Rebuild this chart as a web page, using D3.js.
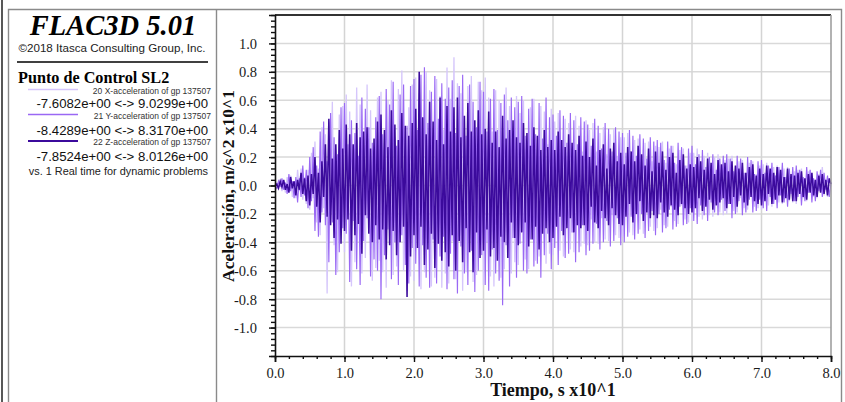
<!DOCTYPE html>
<html>
<head>
<meta charset="utf-8">
<script src="https://cdn.jsdelivr.net/npm/d3@7"></script>
<style>
  html, body { margin: 0; padding: 0; background: #fff; }
  svg { display: block; }
</style>
</head>
<body>
<svg id="chart" width="845" height="402"></svg>
<script>
// Sampling interval of the acceleration histories (s)
const dt = 0.25;

// 20 X-acceleration of gp 137507 (m/s^2)
const accX = [
  0, 0.2, -0.1, 0.3, -0.4, 0.2, -0.5, 0.6, -0.2, 0.7, -0.8, 0.3, -0.9, 1.1, -0.4, 1.2, -1.0, 0.6, -1.3, 1.1,
  -1.7, 2.3, -0.9, 3.1, -2.6, 1.2, -3.5, 4.1, -1.6, 3.6, -7.6082, 4.5, -2.1, 5.9, -4.2, 2.0, -6.1, 5.0, -2.4, 5.6,
  -4.7, 6.4, -2.2, 5.2, -7.1, 2.8, -5.4, 6.9, -2.5, 5.7, -6.2, 2.4, -5.1, 7.1, -3.0, 5.3, -6.7, 2.6, -5.8, 6.2,
  -5.3, 6.6, -6.1, 3.0, -7.2, 6.0, -3.1, 7.4, -6.3, 3.4, -5.7, 6.8, -3.3, 8.1, -6.0, 4.0, -7.4, 5.5, -6.4, 7.1,
  -6.7, 7.6, -3.6, 6.5, -7.3, 4.0, -6.1, 8.0, -3.8, 6.7, -7.1, 3.5, -6.5, 7.5, -4.1, 6.3, -7.2, 3.9, -6.2, 8.3,
  -6.9, 6.1, -3.9, 9.0299, -6.6, 7.2, -3.6, 6.5, -7.4, 4.0, -6.1, 7.0, -3.7, 7.7, -6.8, 3.9, -6.3, 7.3, -3.5, 6.7,
  -7.0, 7.6, -4.0, 6.2, -6.4, 3.8, -7.1, 6.7, -3.6, 6.0, -6.5, 3.5, -5.9, 6.9, -3.4, 5.6, -6.2, 3.3, -5.4, 6.3,
  -5.6, 5.1, -3.2, 6.0, -5.2, 3.1, -5.9, 5.5, -3.0, 6.1, -5.3, 3.2, -5.0, 5.6, -2.9, 5.2, -5.5, 2.9, -4.8, 5.4,
  -4.9, 4.5, -2.8, 5.1, -4.6, 2.7, -5.0, 4.7, -2.6, 4.4, -4.5, 2.6, -4.7, 4.9, -2.5, 4.2, -4.3, 2.4, -4.1, 4.6,
  -4.2, 3.9, -2.4, 4.4, -4.0, 2.4, -4.1, 3.7, -2.3, 4.1, -3.8, 2.2, -3.9, 3.6, -2.1, 4.0, -3.5, 2.1, -3.7, 3.4,
  -3.6, 3.4, -2.0, 3.7, -3.3, 1.9, -3.5, 3.2, -1.9, 3.3, -3.1, 1.8, -3.4, 3.0, -1.7, 3.1, -2.9, 1.7, -3.2, 2.8,
  -3.0, 2.7, -1.7, 3.1, -2.8, 1.6, -2.9, 2.6, -1.5, 2.8, -2.5, 1.5, -2.7, 2.5, -1.4, 2.6, -2.4, 1.4, -2.6, 2.3,
  -2.5, 2.3, -1.3, 2.6, -2.2, 1.3, -2.4, 2.1, -1.2, 2.3, -2.1, 1.1, -2.2, 2.0, -1.1, 2.2, -1.9, 1.0, -2.1, 1.8,
  -2.0, 1.9, -1.0, 2.1, -1.8, 1.0, -1.9, 1.7, -0.9, 1.8, -1.6, 0.9, -1.7, 1.6, -0.8, 1.7, -1.5, 0.8, -1.6, 1.4,
  -1.7, 1.5, -0.8, 1.6, -1.4, 0.8, -1.5, 1.3, -0.7, 1.4, -1.2, 0.6, -1.3, 1.2, -0.6, 1.3, -1.1, 0.6, -1.2, 1.0,
  -1.3, 1.1, -0.6, 1.2, -0.9, 0.5, -1.1, 1.0, -0.4, 0.9, -0.8, 0.4, -0.9, 0.8, -0.3, 1.3, -0.7, 0.4, -0.8, 0.5,
  0.1
];

// 21 Y-acceleration of gp 137507 (m/s^2)
const accY = [
  0, -0.2, 0.3, -0.1, 0.5, -0.3, 0.2, -0.6, 0.8, -0.4, 0.3, -0.9, 0.6, -1.2, 0.5, -0.8, 1.4, -0.7, 1.1, -1.6,
  2.0, -1.1, 2.7, -3.2, 1.4, -3.6, 3.8, -1.9, 4.5, -2.8, 1.7, -5.4, 5.1, -2.6, 3.4, -6.3, 2.2, -4.7, 5.5, -3.0,
  5.8, -3.4, 2.9, -6.8, 4.6, -2.5, 3.7, -5.9, 2.1, -7.0, 6.2, -3.9, 5.4, -2.3, 4.1, -6.4, 3.0, -5.2, 4.8, -6.0,
  6.3, -8.0, 3.6, -4.9, 6.8, -3.1, 5.7, -6.6, 7.3, -4.0, 2.8, -7.0, 6.4, -3.5, 7.1, -5.6, 4.2, -6.9, 7.0, -4.4,
  7.5, -5.5, 3.9, -7.1, 7.8, -4.2, 8.3170, -6.5, 4.4, -7.2, 6.6, -3.8, 7.7, -6.9, 4.7, -5.0, 7.2, -3.6, 6.1, -7.3,
  6.9, -4.8, 7.4, -6.6, 3.7, -7.6, 7.0, -4.3, 7.8, -6.2, 3.5, -7.0, 7.1, -4.6, 5.9, -7.5, 4.1, -6.0, 7.3, -4.9,
  6.6, -7.0, 3.8, -7.4, 6.1, -4.5, 6.8, -6.2, 3.9, -6.7, 5.8, -8.4289, 6.4, -4.2, 4.6, -7.1, 6.2, -3.7, 5.5, -6.5,
  5.9, -4.1, 6.3, -6.0, 3.5, -6.2, 5.4, -3.8, 6.1, -5.7, 3.6, -5.5, 5.8, -6.5, 3.3, -4.9, 6.2, -3.4, 4.8, -5.9,
  5.0, -4.4, 3.5, -5.6, 5.3, -3.2, 4.9, -5.1, 3.0, -4.8, 5.1, -3.3, 4.6, -5.4, 2.9, -4.7, 4.8, -2.8, 4.5, -4.9,
  4.3, -4.6, 2.8, -4.1, 4.7, -2.7, 4.2, -4.5, 2.6, -4.0, 4.4, -2.5, 4.0, -4.3, 2.4, -3.9, 4.1, -2.3, 3.8, -4.2,
  3.7, -4.0, 2.3, -3.6, 3.9, -2.2, 3.5, -3.8, 2.1, -3.4, 3.6, -2.0, 3.3, -3.7, 1.9, -3.2, 3.4, -1.8, 3.1, -3.5,
  3.2, -2.0, 3.0, -3.3, 1.8, -3.0, 3.1, -1.7, 2.8, -3.1, 1.6, -2.9, 3.0, -1.5, 2.7, -2.8, 1.4, -2.7, 2.6, -1.6,
  2.8, -2.5, 1.5, -2.7, 2.2, -1.4, 2.5, -2.1, 1.3, -2.5, 2.0, -1.2, 2.2, -1.9, 1.1, -2.1, 1.9, -1.0, 2.1, -1.8,
  2.2, -1.3, 1.9, -2.3, 1.0, -2.0, 2.1, -1.1, 1.9, -2.1, 0.9, -1.9, 2.0, -1.0, 1.8, -1.9, 0.8, -1.8, 1.7, -1.0,
  1.8, -1.6, 0.9, -1.8, 1.4, -0.8, 1.6, -1.3, 0.7, -1.6, 1.3, -0.7, 1.6, -1.2, 0.6, -1.5, 1.2, -0.6, 1.3, -1.1,
  1.4, -0.8, 1.1, -1.4, 0.6, -1.1, 1.3, -0.5, 1.1, -1.2, 0.5, -1.1, 1.0, -0.4, 1.1, -0.8, 0.9, -0.3, 0.7, -0.8,
  0.2
];

// 22 Z-acceleration of gp 137507 (m/s^2)
const accZ = [
  0, 0.1, -0.2, 0.3, -0.1, 0.4, -0.3, 0.1, -0.5, 0.6, -0.2, 0.3, -0.7, 0.4, -0.3, 0.9, -0.6, 0.5, -1.1, 0.7,
  -1.4, 0.8, -0.6, 2.0, -1.5, 0.9, -2.6, 1.7, -0.8, 2.9, -2.2, 4.7, -2.8, 1.9, -3.7, 2.9, -2.4, 3.9, -4.1, 2.6,
  -3.2, 4.3, -2.4, 3.6, -4.6, 2.9, -3.5, 4.4, -2.7, 3.4, -4.8, 3.8, -2.1, 4.1, -3.4, 2.6, -4.0, 3.3, -2.8, 4.5,
  -3.8, 5.0, -3.1, 3.9, -5.2, 2.7, -4.2, 5.3, -3.2, 4.3, -4.9, 3.2, -4.0, 5.1, -2.9, 4.2, -7.8524, 3.5, -5.0, 4.4,
  -3.5, 5.4, -4.4, 8.0126, -2.9, 4.8, -5.6, 3.6, -4.5, 5.9, -3.4, 4.5, -5.8, 3.2, -4.1, 6.2, -5.3, 2.9, -4.7, 5.6,
  -5.7, 3.8, -3.5, 5.5, -6.0, 6.2, -3.9, 3.4, -5.4, 4.9, -3.0, 5.8, -4.7, 3.8, -6.1, 4.6, -3.3, 5.3, -5.1, 3.6,
  -4.6, 4.0, -3.1, 5.2, -5.0, 3.0, -4.4, 3.8, -5.3, 2.7, -3.6, 4.9, -4.0, 3.3, -5.1, 3.9, -2.6, 4.6, -3.7, 3.4,
  -4.2, 3.0, -3.3, 4.4, -2.6, 3.7, -4.3, 2.8, -3.8, 4.1, -2.9, 3.5, -4.5, 2.5, -3.4, 3.9, -3.0, 2.7, -4.0, 3.2,
  -3.7, 2.5, -2.9, 3.8, -2.2, 3.2, -3.5, 2.7, -3.0, 3.6, -2.3, 3.0, -3.3, 2.5, -2.8, 3.5, -3.0, 2.1, -2.8, 3.1,
  -3.2, 2.0, -1.5, 3.3, -2.6, 1.4, -3.0, 2.5, -1.8, 2.9, -2.3, 1.2, -2.8, 2.6, -1.6, 3.0, -2.1, 1.7, -2.7, 2.3,
  -2.8, 1.5, -2.2, 2.7, -1.3, 2.4, -2.6, 1.7, -2.0, 2.8, -1.1, 2.2, -2.5, 1.4, -1.9, 2.6, -2.3, 1.0, -2.1, 2.4,
  -2.3, 1.6, -1.2, 2.4, -1.9, 1.1, -2.2, 2.0, -1.4, 2.3, -1.7, 0.9, -2.1, 1.8, -1.3, 2.2, -1.6, 1.2, -2.0, 1.5,
  -1.9, 1.3, -1.6, 2.0, -0.9, 1.7, -1.8, 1.1, -1.5, 1.9, -1.0, 1.6, -1.7, 0.8, -1.4, 1.8, -1.2, 1.5, -0.9, 1.6,
  -1.6, 1.0, -1.3, 1.7, -0.8, 1.4, -1.5, 1.2, -0.7, 1.6, -1.2, 0.9, -1.4, 1.3, -0.8, 1.5, -1.1, 0.7, -1.3, 1.2,
  -1.4, 0.8, -1.1, 1.4, -0.6, 1.2, -1.3, 0.9, -1.0, 1.3, -0.7, 1.1, -1.2, 0.6, -0.9, 1.2, -1.0, 0.8, -1.1, 0.7,
  -1.1, 0.9, -0.6, 1.0, -0.8, 0.5, -1.0, 0.8, -0.5, 0.9, -0.7, 0.4, -0.8, 0.7, -0.5, 0.8, -0.6, 0.4, -0.7, 0.5,
  0.1
];

const seriesNames = ["20 X-acceleration of gp 137507", "21 Y-acceleration of gp 137507", "22 Z-acceleration of gp 137507"];
const seriesColors = ["#d5c6fb", "#9a68f4", "#3b0a9c"];
const seriesWidths = [1.3, 1.15, 1.55];
const seriesData = [accX, accY, accZ];

// Axis extents (s and m/s^2) and the x10^1 tick labelling
const timeDomain = [0, 80];
const accDomain = [-12, 12];
const xMajorTicks = [0, 10, 20, 30, 40, 50, 60, 70, 80];
const yMajorTicks = [-10, -8, -6, -4, -2, 0, 2, 4, 6, 8, 10];

const titleText = "FLAC3D 5.01";
const copyrightText = "\u00A92018 Itasca Consulting Group, Inc.";
const plotTitle = "Punto de Control SL2";
const footText = "vs. 1 Real time for dynamic problems";
const xTitle = "Tiempo, s x10^1";
const yTitle = "Aceleraci\u00F3n, m/s^2 x10^1";

const serif = "'Liberation Serif', 'Times New Roman', serif";
const sans = "'Liberation Sans', Arial, sans-serif";

const svg = d3.select("#chart");

// ---- page frame ----
svg.append("line").attr("x1", 2).attr("x2", 2).attr("y1", 0).attr("y2", 402)
  .attr("stroke", "#111").attr("stroke-width", 1.4);
svg.append("path")
  .attr("d", "M8.5,402 V9.5 H841.5 V402")
  .attr("fill", "none").attr("stroke", "#8a8a8a").attr("stroke-width", 1.4);
svg.append("line").attr("x1", 216.5).attr("x2", 216.5).attr("y1", 9.5).attr("y2", 402)
  .attr("stroke", "#8a8a8a").attr("stroke-width", 1.4);

// ---- legend panel ----
const panel = svg.append("g");
panel.append("text").attr("x", 113).attr("y", 35).attr("text-anchor", "middle")
  .attr("font-family", serif).attr("font-weight", "bold").attr("font-style", "italic")
  .attr("font-size", 28.5).attr("fill", "#000").text(titleText);
panel.append("text").attr("x", 112).attr("y", 51.5).attr("text-anchor", "middle")
  .attr("font-family", sans).attr("font-size", 11.6).attr("fill", "#222").text(copyrightText);
panel.append("line").attr("x1", 17).attr("x2", 208).attr("y1", 62).attr("y2", 62)
  .attr("stroke", "#000").attr("stroke-width", 1.3);
panel.append("text").attr("x", 18).attr("y", 82.5)
  .attr("font-family", serif).attr("font-weight", "bold").attr("font-size", 16.2)
  .attr("fill", "#000").text(plotTitle);

const fmtE = v => v.toExponential(4).replace(/e([+-])(\d)$/, "e$10$2");
const legendLineY = [89.5, 114.5, 141];
const legendLabelY = [94, 119, 145];
const legendValueY = [108, 134.5, 160.5];
seriesData.forEach((data, i) => {
  const ext = d3.extent(data);
  panel.append("line").attr("x1", 28).attr("x2", 78)
    .attr("y1", legendLineY[i]).attr("y2", legendLineY[i])
    .attr("stroke", seriesColors[i]).attr("stroke-width", i === 2 ? 2 : 1.6);
  panel.append("text").attr("x", 211).attr("y", legendLabelY[i]).attr("text-anchor", "end")
    .attr("font-family", sans).attr("font-size", 8.5).attr("fill", "#333").text(seriesNames[i]);
  panel.append("text").attr("x", 208).attr("y", legendValueY[i]).attr("text-anchor", "end")
    .attr("font-family", sans).attr("font-size", 13.2).attr("fill", "#111")
    .text(fmtE(ext[0]) + " <-> " + fmtE(ext[1]));
});
panel.append("text").attr("x", 208).attr("y", 175).attr("text-anchor", "end")
  .attr("font-family", sans).attr("font-size", 10.9).attr("fill", "#222").text(footText);

// ---- plot ----
const plot = { left: 275, right: 831, top: 15, bottom: 356 };
const x = d3.scaleLinear().domain(timeDomain).range([plot.left, plot.right]);
const y = d3.scaleLinear().domain(accDomain).range([plot.bottom, plot.top]);

const grid = svg.append("g");
grid.selectAll("line.h").data(yMajorTicks).join("line").attr("class", "h")
  .attr("x1", plot.left).attr("x2", plot.right)
  .attr("y1", d => y(d)).attr("y2", d => y(d))
  .attr("stroke", "#d9d9d9").attr("stroke-width", 1.5);
grid.selectAll("line.v").data(xMajorTicks.slice(1, -1)).join("line").attr("class", "v")
  .attr("x1", d => x(d)).attr("x2", d => x(d))
  .attr("y1", plot.top).attr("y2", plot.bottom)
  .attr("stroke", "#d4d4d4").attr("stroke-width", 1.5);

const line = d3.line().x((d, i) => x(i * dt)).y(d => y(d));
svg.append("g").selectAll("path").data(seriesData).join("path")
  .attr("d", d => line(d))
  .attr("fill", "none")
  .attr("stroke", (d, i) => seriesColors[i])
  .attr("stroke-width", (d, i) => seriesWidths[i])
  .attr("stroke-linejoin", "miter");

// borders
svg.append("line").attr("x1", plot.left).attr("x2", plot.right).attr("y1", plot.top).attr("y2", plot.top)
  .attr("stroke", "#333").attr("stroke-width", 2);
svg.append("line").attr("x1", plot.right).attr("x2", plot.right).attr("y1", plot.top).attr("y2", plot.bottom)
  .attr("stroke", "#999").attr("stroke-width", 1.5);

// x axis: majors every 10 s, minors every 2 s
const xAxis = d3.axisBottom(x).tickValues(xMajorTicks).tickSize(6).tickPadding(6)
  .tickFormat(d => (d / 10).toFixed(1));
const gx = svg.append("g").attr("transform", `translate(0,${plot.bottom})`).call(xAxis);
const xMinor = d3.axisBottom(x).tickValues(d3.range(0, 81, 2)).tickSize(3).tickFormat("");
svg.append("g").attr("transform", `translate(0,${plot.bottom})`).call(xMinor)
  .select(".domain").remove();

// y axis: majors every 2 m/s^2, minors every 0.4 m/s^2
const yAxis = d3.axisLeft(y).tickValues(yMajorTicks).tickSize(6).tickPadding(12)
  .tickFormat(d => (d / 10).toFixed(1));
const gy = svg.append("g").attr("transform", `translate(${plot.left},0)`).call(yAxis);
const yMinor = d3.axisLeft(y).tickValues(d3.range(-60, 61, 2).map(v => v / 5)).tickSize(4).tickFormat("");
svg.append("g").attr("transform", `translate(${plot.left},0)`).call(yMinor)
  .select(".domain").remove();

[gx, gy].forEach(g => {
  g.select(".domain").attr("stroke", "#111").attr("stroke-width", 1.6);
  g.selectAll(".tick text").attr("font-family", serif).attr("font-size", 14.5).attr("fill", "#1a1a1a");
});
svg.selectAll(".tick line").attr("stroke", "#111").attr("stroke-width", 1.4);
gy.selectAll(".tick text").attr("dy", "0.35em");

// axis titles
svg.append("text").attr("x", 553).attr("y", 396).attr("text-anchor", "middle")
  .attr("font-family", serif).attr("font-weight", "bold").attr("font-size", 18)
  .attr("fill", "#111").text(xTitle);
svg.append("text").attr("transform", "translate(234,186) rotate(-90)").attr("text-anchor", "middle")
  .attr("font-family", serif).attr("font-weight", "bold").attr("font-size", 17.5)
  .attr("fill", "#111").text(yTitle);
</script>
</body>
</html>
